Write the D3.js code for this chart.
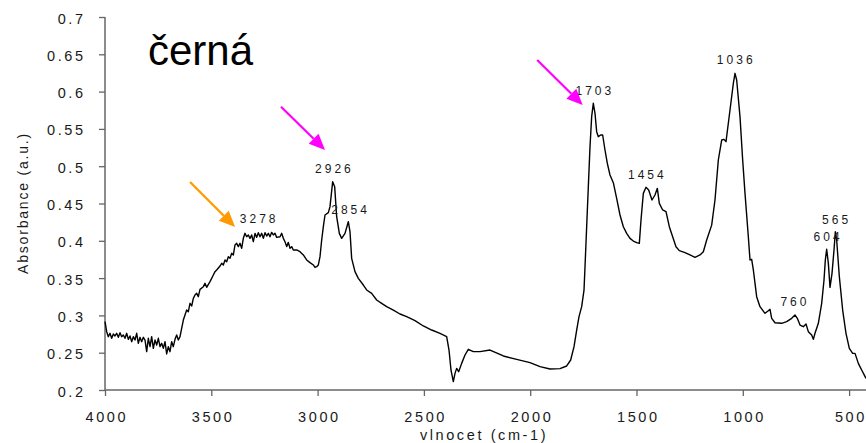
<!DOCTYPE html>
<html>
<head>
<meta charset="utf-8">
<script src="https://cdn.jsdelivr.net/npm/d3@7/dist/d3.min.js"></script>
<style>
  html, body { margin: 0; padding: 0; background: #fff; }
  svg { display: block; }
  text { font-family: "Liberation Sans", Arial, sans-serif; }
</style>
</head>
<body>
<svg id="chart" width="866" height="443"></svg>
<script>
// Wavenumber (cm-1) and absorbance (a.u.)
const wavenumber = [
  4000.0,3992.1,3984.3,3976.5,3968.6,3960.8,3953.0,3945.1,3937.3,3929.4,3921.6,3913.8,3905.9,3898.1,3890.2,3882.4,
  3874.6,3866.7,3858.9,3851.0,3843.2,3835.4,3827.5,3819.7,3811.8,3804.0,3796.2,3788.3,3780.5,3772.7,3764.8,3757.0,
  3749.1,3741.3,3733.5,3725.6,3717.8,3709.9,3702.1,3694.3,3686.4,3678.6,3670.7,3662.9,3655.1,3647.2,3639.4,3631.5,
  3623.7,3615.9,3608.0,3600.2,3592.3,3584.5,3576.7,3568.8,3561.0,3553.1,3537.5,3529.6,3521.8,3506.1,3490.4,3482.6,
  3474.7,3459.1,3451.2,3443.4,3435.5,3427.7,3419.9,3412.0,3404.2,3396.3,3388.5,3380.7,3372.8,3365.0,3357.2,3349.3,
  3341.5,3333.6,3325.8,3318.0,3310.1,3302.3,3294.4,3286.6,3278.8,3270.9,3263.1,3255.2,3247.4,3239.6,3231.7,3223.9,
  3216.0,3208.2,3200.4,3192.5,3176.8,3169.0,3161.2,3153.3,3145.5,3137.6,3129.8,3122.0,3114.1,3098.4,3082.8,3067.1,
  3051.4,3035.7,3020.0,3012.2,3004.4,2996.5,2988.7,2980.8,2973.0,2965.2,2949.5,2941.7,2929.1,2919.7,2910.3,2897.8,
  2886.8,2871.1,2855.5,2847.6,2839.8,2824.1,2808.4,2784.9,2769.2,2745.7,2722.2,2698.7,2675.1,2643.8,2612.4,2581.1,
  2541.9,2502.7,2463.5,2424.3,2392.9,2381.9,2372.6,2361.6,2353.7,2345.9,2336.5,2322.4,2306.7,2291.0,2267.5,2236.1,
  2189.0,2126.3,2063.6,2000.9,1953.8,1906.8,1859.8,1828.4,1809.6,1793.9,1781.4,1770.4,1757.9,1746.9,1742.2,1734.4,
  1726.6,1718.7,1710.9,1703.1,1695.2,1687.4,1679.5,1668.6,1659.2,1648.2,1637.2,1624.7,1609.0,1593.3,1577.6,1561.9,
  1546.3,1530.6,1514.9,1499.2,1486.7,1478.8,1467.9,1455.3,1442.8,1427.1,1413.0,1402.0,1392.6,1376.9,1361.2,1345.6,
  1329.9,1314.2,1298.5,1271.9,1248.4,1224.8,1201.3,1185.6,1169.9,1146.4,1130.7,1115.1,1099.4,1088.4,1079.0,1060.2,
  1044.5,1036.7,1028.8,1013.2,1000.6,989.6,974.0,966.1,958.3,950.4,934.8,919.1,895.6,879.9,872.0,864.2,
  848.5,817.2,793.7,770.1,754.5,743.5,731.0,715.3,702.7,691.7,676.1,668.2,660.4,644.7,629.0,618.0,
  611.8,605.5,597.6,589.8,580.4,571.0,564.7,558.5,545.9,530.3,514.6,498.9,483.2,472.2,456.6,440.9,
  420.5
];
const absorbance = [
  0.2916,0.2782,0.2715,0.2760,0.2693,0.2751,0.2724,0.2760,0.2706,0.2768,0.2715,0.2737,0.2693,0.2760,0.2679,0.2724,
  0.2648,0.2715,0.2670,0.2760,0.2626,0.2706,0.2648,0.2706,0.2670,0.2514,0.2693,0.2581,0.2715,0.2559,0.2670,0.2603,
  0.2693,0.2581,0.2626,0.2559,0.2648,0.2483,0.2581,0.2514,0.2648,0.2581,0.2679,0.2737,0.2670,0.2715,0.2827,0.2938,
  0.3005,0.3072,0.3050,0.3162,0.3126,0.3229,0.3274,0.3296,0.3251,0.3349,0.3385,0.3430,0.3376,0.3452,0.3542,0.3586,
  0.3609,0.3662,0.3698,0.3676,0.3743,0.3720,0.3787,0.3765,0.3832,0.3810,0.3944,0.3966,0.3922,0.3966,0.3899,0.4033,
  0.4100,0.4055,0.4078,0.4033,0.4078,0.3988,0.4100,0.4046,0.4109,0.4055,0.4100,0.4033,0.4109,0.4064,0.4100,0.4055,
  0.4113,0.4078,0.4100,0.4046,0.4055,0.4100,0.4033,0.3988,0.3922,0.3979,0.3899,0.3922,0.3877,0.3877,0.3854,0.3810,
  0.3743,0.3707,0.3676,0.3644,0.3653,0.3676,0.3787,0.4011,0.4189,0.4346,0.4377,0.4458,0.4793,0.4726,0.4323,0.4100,
  0.4033,0.4100,0.4256,0.4122,0.3765,0.3586,0.3497,0.3407,0.3341,0.3296,0.3206,0.3162,0.3117,0.3072,0.3019,0.2983,
  0.2929,0.2858,0.2804,0.2760,0.2715,0.2536,0.2268,0.2112,0.2223,0.2290,0.2246,0.2357,0.2469,0.2545,0.2514,0.2514,
  0.2536,0.2456,0.2411,0.2366,0.2313,0.2281,0.2286,0.2322,0.2402,0.2581,0.2804,0.2983,0.3117,0.3340,0.3653,0.4189,
  0.4726,0.5262,0.5664,0.5843,0.5709,0.5463,0.5396,0.5418,0.5418,0.5217,0.5038,0.4882,0.4779,0.4569,0.4346,0.4189,
  0.4100,0.4033,0.3997,0.3975,0.3966,0.4279,0.4636,0.4717,0.4681,0.4547,0.4614,0.4703,0.4502,0.4413,0.4390,0.4189,
  0.4055,0.3921,0.3868,0.3841,0.3810,0.3778,0.3810,0.3854,0.4011,0.4210,0.4550,0.5083,0.5351,0.5360,0.5329,0.5753,
  0.6111,0.6245,0.6155,0.5664,0.5083,0.4636,0.4055,0.3743,0.3752,0.3609,0.3251,0.3117,0.3028,0.3063,0.3081,0.2961,
  0.2902,0.2894,0.2916,0.2961,0.3005,0.2961,0.2871,0.2849,0.2885,0.2782,0.2737,0.2679,0.2760,0.2894,0.3162,0.3475,
  0.3743,0.3886,0.3698,0.3376,0.3564,0.3877,0.4122,0.4011,0.3519,0.3072,0.2760,0.2558,0.2491,0.2491,0.2357,0.2268,
  0.2156
];

// Peak labels (text, label centre wavenumber, label baseline absorbance)
const peakLabels = ["3278", "2926", "2854", "1703", "1454", "1036", "760", "604", "565"];
const peakLabelWn = [3282, 2928, 2852, 1703, 1456, 1038, 762, 606, 566];
const peakLabelAbs = [0.4234, 0.4905, 0.4359, 0.5954, 0.4828, 0.6370, 0.3126, 0.4001, 0.4225];

// Arrows (start wn, start abs, tip wn, tip abs, colour)
const arrowStartWn = [3600, 3172, 1967];
const arrowStartAbs = [0.4788, 0.5798, 0.6424];
const arrowTipWn = [3388, 2965, 1753];
const arrowTipAbs = [0.4185, 0.5217, 0.5820];
const arrowColors = ["#FF9900", "#FF00FF", "#FF00FF"];

const xTicks = [4000, 3500, 3000, 2500, 2000, 1500, 1000, 500];
const yTicks = [0.2, 0.25, 0.3, 0.35, 0.4, 0.45, 0.5, 0.55, 0.6, 0.65, 0.7];
const yTickLabels = ["0.2", "0.25", "0.3", "0.35", "0.4", "0.45", "0.5", "0.55", "0.6", "0.65", "0.7"];
const xTickLabels = ["4000", "3500", "3000", "2500", "2000", "1500", "1000", "500"];

const titleText = "černá";
const xTitle = "vlnocet (cm-1)";
const yTitle = "Absorbance (a.u.)";

// ---- drawing ----
(function () {
const svg = d3.select("#chart");
const mLeft = 105, mTop = 17, mBottom = 390;
const x = d3.scaleLinear().domain([4000, 400]).range([mLeft, mLeft + 3600 * 106.3 / 500]);
const y = d3.scaleLinear().domain([0.2, 0.7]).range([mBottom, mTop]);

const axisColor = "#666";
const LS_TICK = 2.6;
const FS_TICK = 14.5;

// Y axis
const yAxis = svg.append("g").attr("transform", `translate(${mLeft},0)`)
  .call(d3.axisLeft(y).tickValues(yTicks).tickSize(6).tickFormat((d, i) => yTickLabels[i]));
yAxis.select(".domain").attr("stroke", axisColor).attr("stroke-width", 1.5).attr("d", `M0,${mTop}V${mBottom}`);
yAxis.selectAll(".tick line").attr("stroke", axisColor).attr("stroke-width", 1.3);
yAxis.selectAll(".tick text")
  .attr("x", -22 + LS_TICK).attr("dy", "0.42em")
  .attr("font-size", FS_TICK).attr("fill", "#1a1a1a")
  .attr("font-family", "'Liberation Sans', Arial, sans-serif")
  .style("letter-spacing", LS_TICK + "px");

// X axis
const xAxis = svg.append("g").attr("transform", `translate(0,${mBottom})`)
  .call(d3.axisBottom(x).tickValues(xTicks).tickSize(6).tickFormat((d, i) => xTickLabels[i]));
xAxis.select(".domain").attr("stroke", axisColor).attr("stroke-width", 1.5).attr("d", `M${mLeft},0H866`);
xAxis.selectAll(".tick line").attr("stroke", axisColor).attr("stroke-width", 1.3);
xAxis.selectAll(".tick text")
  .attr("y", 32).attr("dy", 0).attr("dx", LS_TICK / 2)
  .attr("font-size", FS_TICK).attr("fill", "#1a1a1a")
  .attr("font-family", "'Liberation Sans', Arial, sans-serif")
  .style("letter-spacing", LS_TICK + "px");

// Axis titles
svg.append("text")
  .attr("x", 484).attr("y", 440).attr("text-anchor", "middle")
  .attr("font-size", 14.5).attr("fill", "#1a1a1a").style("letter-spacing", "2.6px")
  .text(xTitle);
svg.append("text")
  .attr("transform", `translate(28,203) rotate(-90)`).attr("text-anchor", "middle")
  .attr("font-size", 14).attr("fill", "#1a1a1a").style("letter-spacing", "1.8px")
  .text(yTitle);

// Spectrum line
const data = wavenumber.map((w, i) => [w, absorbance[i]]);
svg.append("path")
  .datum(data)
  .attr("fill", "none").attr("stroke", "#000").attr("stroke-width", 1.4)
  .attr("stroke-linejoin", "round")
  .attr("d", d3.line().x(d => x(d[0])).y(d => y(d[1])));

// Peak labels
svg.append("g").selectAll("text").data(peakLabels).join("text")
  .attr("x", (d, i) => x(peakLabelWn[i]) + 1.5)
  .attr("y", (d, i) => y(peakLabelAbs[i]))
  .attr("text-anchor", "middle")
  .attr("font-size", 12).attr("fill", "#1a1a1a").style("letter-spacing", "3px")
  .text(d => d);

// Arrows
const arrows = arrowStartWn.map((w, i) => ({
  x1: x(w), y1: y(arrowStartAbs[i]), x2: x(arrowTipWn[i]), y2: y(arrowTipAbs[i]), c: arrowColors[i]
}));
const ag = svg.append("g");
arrows.forEach(a => {
  const ang = Math.atan2(a.y2 - a.y1, a.x2 - a.x1);
  const headLen = 16, headW = 7;
  const bx = a.x2 - headLen * Math.cos(ang), by = a.y2 - headLen * Math.sin(ang);
  ag.append("line").attr("x1", a.x1).attr("y1", a.y1).attr("x2", bx).attr("y2", by)
    .attr("stroke", a.c).attr("stroke-width", 2.2);
  const px = -Math.sin(ang) * headW, py = Math.cos(ang) * headW;
  ag.append("path")
    .attr("d", `M${a.x2},${a.y2}L${bx + px},${by + py}L${bx - px},${by - py}Z`)
    .attr("fill", a.c);
});

// Title
svg.append("text")
  .attr("x", 148).attr("y", 65)
  .attr("font-size", 42).attr("fill", "#000")
  .text(titleText);
})();
</script>
</body>
</html>
